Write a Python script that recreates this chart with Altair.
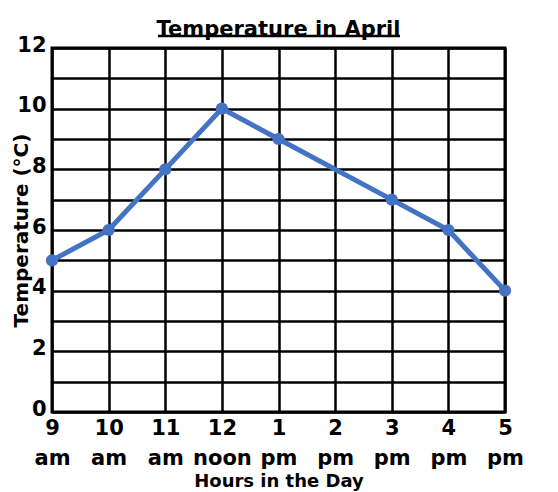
import altair as alt
import pandas as pd

hours = ["9 am", "10 am", "11 am", "12 noon", "1 pm", "2 pm", "3 pm", "4 pm", "5 pm"]
marked_hours = ["9 am", "10 am", "11 am", "12 noon", "1 pm", "3 pm", "4 pm", "5 pm"]
temps = [5, 6, 8, 10, 9, 7, 6, 4]
y_ticks = list(range(13))

FONT = "DejaVu Sans"
BLUE = "#4472C4"

df = pd.DataFrame({"hour": marked_hours, "temp": temps})

x_enc = alt.X(
    "hour:O",
    sort=hours,
    scale=alt.Scale(domain=hours, type="point", padding=0),
    axis=alt.Axis(
        title="Hours in the Day",
        labelExpr="split(datum.label, ' ')",
        labelAngle=0,
        labelLineHeight=30,
        labelPadding=5,
        labelFontSize=21,
        labelFont=FONT,
        labelFontWeight="bold",
        labelColor="black",
        labelOverlap=False,
        labelFlush=False,
        labelBaseline="top",
        ticks=False,
        domain=False,
        grid=True,
        titleFont=FONT,
        titleFontSize=18,
        titleFontWeight="bold",
        titleColor="black",
        titlePadding=4,
    ),
)

y_enc = alt.Y(
    "temp:Q",
    scale=alt.Scale(domain=[0, 12], nice=False, zero=True),
    axis=alt.Axis(
        title="Temperature (°C)",
        values=y_ticks,
        labelExpr="datum.value % 2 == 0 ? datum.label : ''",
        labelOverlap=False,
        labelFontSize=21,
        labelFont=FONT,
        labelFontWeight="bold",
        labelColor="black",
        labelPadding=6,
        labelOffset=-3,
        ticks=False,
        domain=False,
        grid=True,
        titleFont=FONT,
        titleFontSize=20,
        titleFontWeight="bold",
        titleColor="black",
        titleAngle=-90,
        titleX=-31,
        titleY=182,
        titleBaseline="middle",
        titleAlign="center",
    ),
)

base = alt.Chart(df)
line = base.mark_line(color=BLUE, strokeWidth=5).encode(x=x_enc, y=y_enc)
points = base.mark_circle(color=BLUE, size=150, opacity=1).encode(x=x_enc, y=y_enc)

underline = alt.Chart(pd.DataFrame({"a": [0]})).mark_rule(color="black", strokeWidth=2.5).encode(
    x=alt.value(106), x2=alt.value(348), y=alt.value(-12)
)

chart = (
    alt.layer(line, points, underline)
    .properties(
        width=453,
        height=364,
        title=alt.TitleParams(
            "Temperature in April",
            font=FONT,
            fontSize=21,
            fontWeight="bold",
            color="black",
            anchor="middle",
            offset=-6,
        ),
        autosize=alt.AutoSizeParams(type="none"),
        padding={"left": 44, "top": 40, "right": 45, "bottom": 80},
    )
    .configure_view(stroke="black", strokeWidth=3)
    .configure_axis(gridColor="black", gridWidth=2.5, gridOpacity=1)
)

chart.save("out.html", embed_options={"renderer": "svg", "actions": False})
